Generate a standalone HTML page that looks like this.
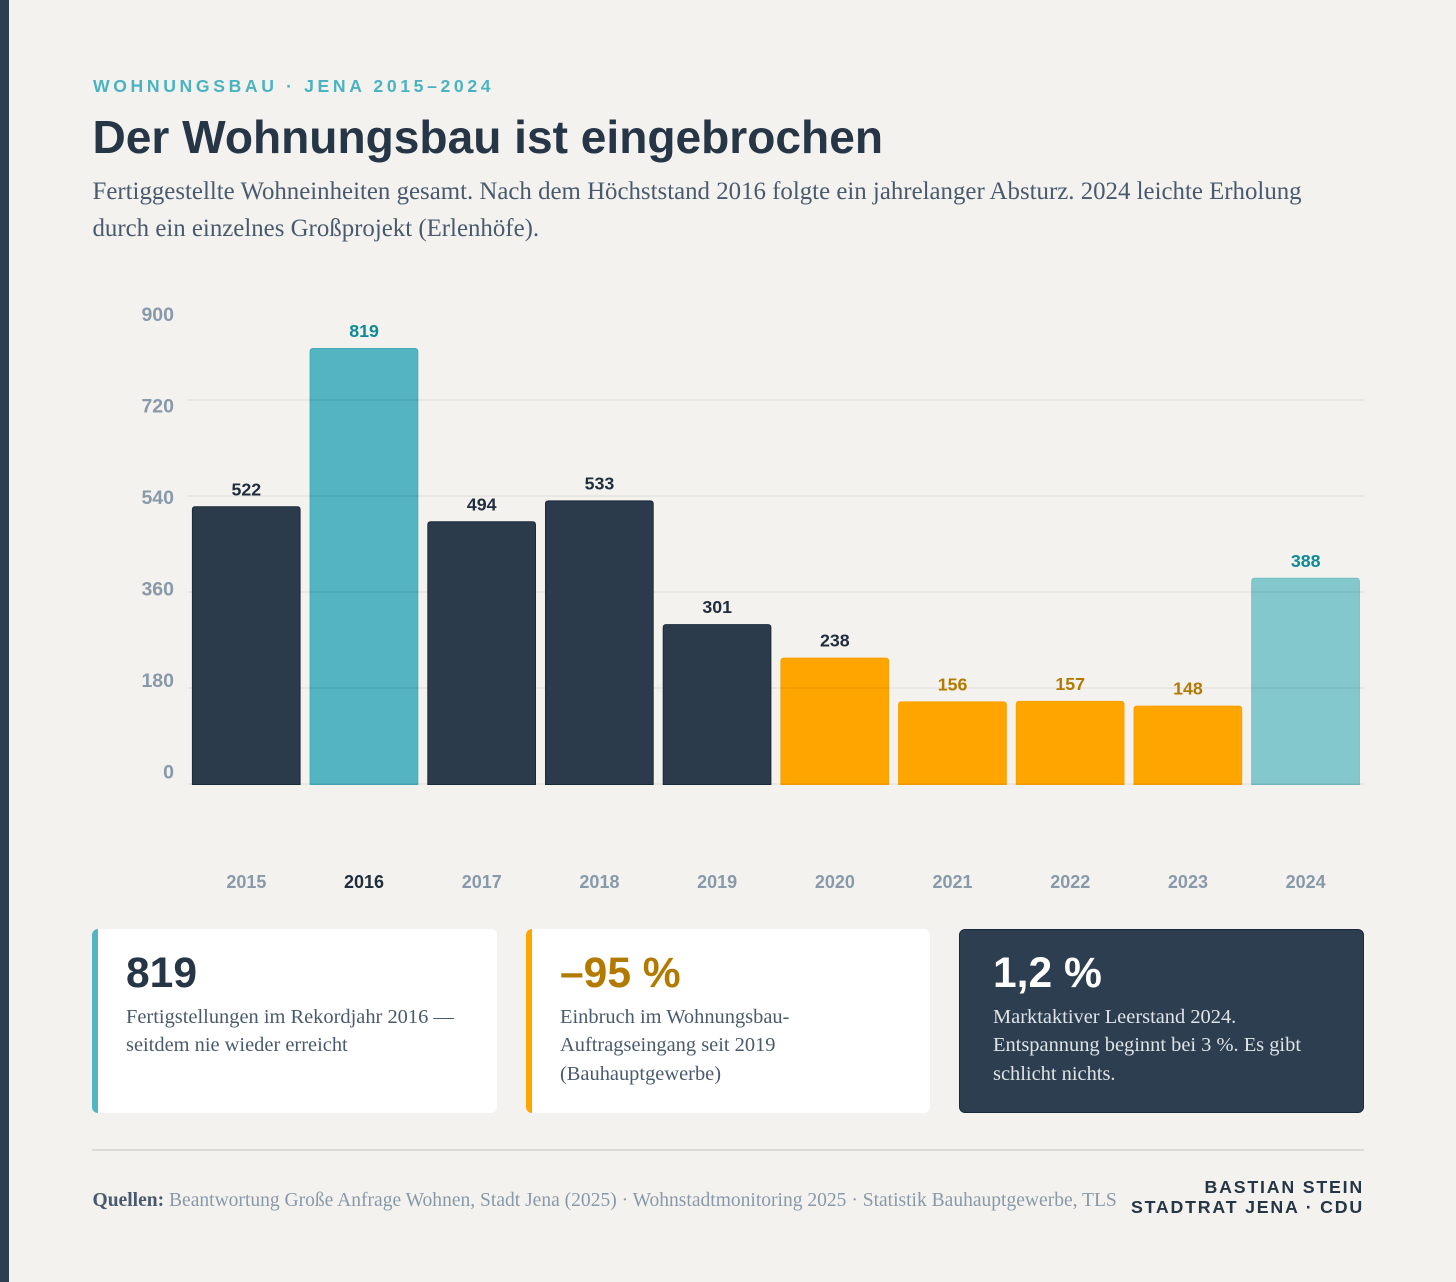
<!DOCTYPE html>
<html lang="de">
<head>
<meta charset="utf-8">
<title>Der Wohnungsbau ist eingebrochen</title>
<style>
html,body{margin:0;padding:0;background:#f4f2ee;}
body{position:relative;width:1456px;height:1282px;overflow:hidden;font-family:"Liberation Sans",sans-serif;}
.abs{position:absolute;white-space:nowrap;}
.serif{font-family:"Liberation Serif",serif;}
#sidebar{left:0;top:0;width:9px;height:1282px;background:#2c3e50;}
#eyebrow{left:93px;top:76px;font-size:17.6px;line-height:20px;font-weight:700;letter-spacing:3.63px;color:#4ab3c1;}
#title{left:92.5px;top:108px;font-size:46.1px;line-height:58px;font-weight:700;color:#263646;}
.sub{left:92.5px;font-size:24.86px;line-height:37px;color:#4a5a6e;}
#chart{position:absolute;left:0;top:0;}
.card{position:absolute;top:929px;height:184px;box-sizing:border-box;border-radius:6px;background:#fff;}
.bar-edge{position:absolute;left:0;top:0;bottom:0;width:6px;border-radius:6px 0 0 6px;}
.num{position:absolute;left:34px;top:19px;font-size:42.56px;line-height:50px;font-weight:700;white-space:nowrap;}
.desc{position:absolute;left:34px;top:73.5px;font-family:"Liberation Serif",serif;font-size:20.43px;line-height:28.6px;color:#4a5a6e;white-space:nowrap;}
#rule{left:92px;top:1149px;width:1272px;height:2px;background:#dcdad6;}
#source{left:92.5px;top:1188px;font-size:19.54px;line-height:25px;color:#8899aa;}
#source b{color:#4a5a6e;}
.sign{right:92px;font-size:17.76px;line-height:20px;font-weight:700;letter-spacing:1.8px;color:#263646;text-align:right;}
</style>
</head>
<body>
<div class="abs" id="sidebar"></div>
<div class="abs" id="eyebrow">WOHNUNGSBAU · JENA 2015–2024</div>
<div class="abs" id="title">Der Wohnungsbau ist eingebrochen</div>
<div class="abs serif sub" style="top:173px">Fertiggestellte Wohneinheiten gesamt. Nach dem Höchststand 2016 folgte ein jahrelanger Absturz. 2024 leichte Erholung</div>
<div class="abs serif sub" style="top:210px">durch ein einzelnes Großprojekt (Erlenhöfe).</div>

<svg id="chart" width="1456" height="900" viewBox="0 0 1456 900" xmlns="http://www.w3.org/2000/svg"></svg>

<div class="card" style="left:92px;width:405px">
  <div class="bar-edge" style="background:#52b5c1"></div>
  <div class="num" style="color:#263646">819</div>
  <div class="desc">Fertigstellungen im Rekordjahr 2016 —<br>seitdem nie wieder erreicht</div>
</div>
<div class="card" style="left:526px;width:404px">
  <div class="bar-edge" style="background:#ffa500"></div>
  <div class="num" style="color:#b27a00">–95 %</div>
  <div class="desc">Einbruch im Wohnungsbau-<br>Auftragseingang seit 2019<br>(Bauhauptgewerbe)</div>
</div>
<div class="card" style="left:959px;width:405px;background:#2c3e50;border:1px solid #1a2a3a">
  <div class="num" style="color:#fff;left:33px;top:18px">1,2 %</div>
  <div class="desc" style="color:#dfe3e6;left:33px;top:72.5px">Marktaktiver Leerstand 2024.<br>Entspannung beginnt bei 3 %. Es gibt<br>schlicht nichts.</div>
</div>

<div class="abs" id="rule"></div>
<div class="abs serif" id="source"><b>Quellen:</b> Beantwortung Große Anfrage Wohnen, Stadt Jena (2025) · Wohnstadtmonitoring 2025 · Statistik Bauhauptgewerbe, TLS</div>
<div class="abs sign" style="top:1177px">BASTIAN STEIN</div>
<div class="abs sign" style="top:1197px">STADTRAT JENA · CDU</div>

<script>
const years = ['2015','2016','2017','2018','2019','2020','2021','2022','2023','2024'];
const completions = [522,819,494,533,301,238,156,157,148,388];
const barGroups = ['base','peak','base','base','base','crisis','crisis','crisis','crisis','recovery'];
const yTicks = [900,720,540,360,180,0];
const gridValues = [720,540,360,180,0];

const NS = 'http://www.w3.org/2000/svg';
const svg = document.getElementById('chart');
const plot = {left:187.5, right:1364, bottom:784.5, max:900, barSpan:479.7, gridSpan:480};
const band = 117.7;
const yScale = v => plot.bottom - (v / plot.max) * plot.barSpan;
const gridY = v => 784 - (v / plot.max) * plot.gridSpan;
const xBand = i => plot.left + i * band;
const xCenter = i => xBand(i) + band / 2;

const fills = {base:'#2c3b4c', peak:'#52b5c1', crisis:'#ffa500', recovery:'#83c8cc'};
const strokes = {base:'#1a2a3a', peak:'#45acb8', crisis:'#f9a100', recovery:'#75bfc4'};
const labelColors = {base:'#1f2d3d', peak:'#0e8a96', crisis:'#b27a00', recovery:'#0e8a96'};

function make(tag, attrs, text){
  const el = document.createElementNS(NS, tag);
  for (const k in attrs) el.setAttribute(k, attrs[k]);
  if (text !== undefined) el.textContent = text;
  svg.appendChild(el);
  return el;
}

function drawBar(v, i){
  const g = barGroups[i];
  const x0 = xBand(i) + 4.9;
  const x1 = xBand(i) + band - 5.1;
  const top = yScale(v) + 0.5;
  const bot = plot.bottom;
  const r = 3;
  const d = `M${x0} ${bot}V${top+r}Q${x0} ${top} ${x0+r} ${top}H${x1-r}Q${x1} ${top} ${x1} ${top+r}V${bot}Z`;
  const bar = make('path',{d:d,fill:fills[g],stroke:strokes[g],'stroke-width':1});
  
  
}

// Light bars sit beneath the gridlines (the lines show through); dark bars cover them.
completions.forEach((v,i)=>{ if (barGroups[i] !== 'base') drawBar(v,i); });

gridValues.forEach(v=>{
  const line = make('line',{x1:plot.left,x2:plot.right,y1:gridY(v),y2:gridY(v),stroke:'rgba(0,0,0,0.06)','stroke-width':1.6});
  
  
});

completions.forEach((v,i)=>{ if (barGroups[i] === 'base') drawBar(v,i); });

completions.forEach((v,i)=>{
  const g = barGroups[i];
  const lab = make('text',{x:xCenter(i),y:yScale(v)-10.9,'text-anchor':'middle','font-size':17.8,'font-weight':700,fill:labelColors[i===5?'base':g],'font-family':'"Liberation Sans",sans-serif'},String(v));
  
  
  const yr = make('text',{x:xCenter(i),y:888,'text-anchor':'middle','font-size':18,'font-weight':700,fill:g==='peak'?'#1f2d3d':'#8899aa','font-family':'"Liberation Sans",sans-serif'},years[i]);
  
  
});

yTicks.forEach((t,i)=>{
  const tick = make('text',{x:174,y:321.2+i*91.5,'text-anchor':'end','font-size':19.5,'font-weight':700,fill:'#8899aa','font-family':'"Liberation Sans",sans-serif'},String(t));
  
  
});
</script>
</body>
</html>
